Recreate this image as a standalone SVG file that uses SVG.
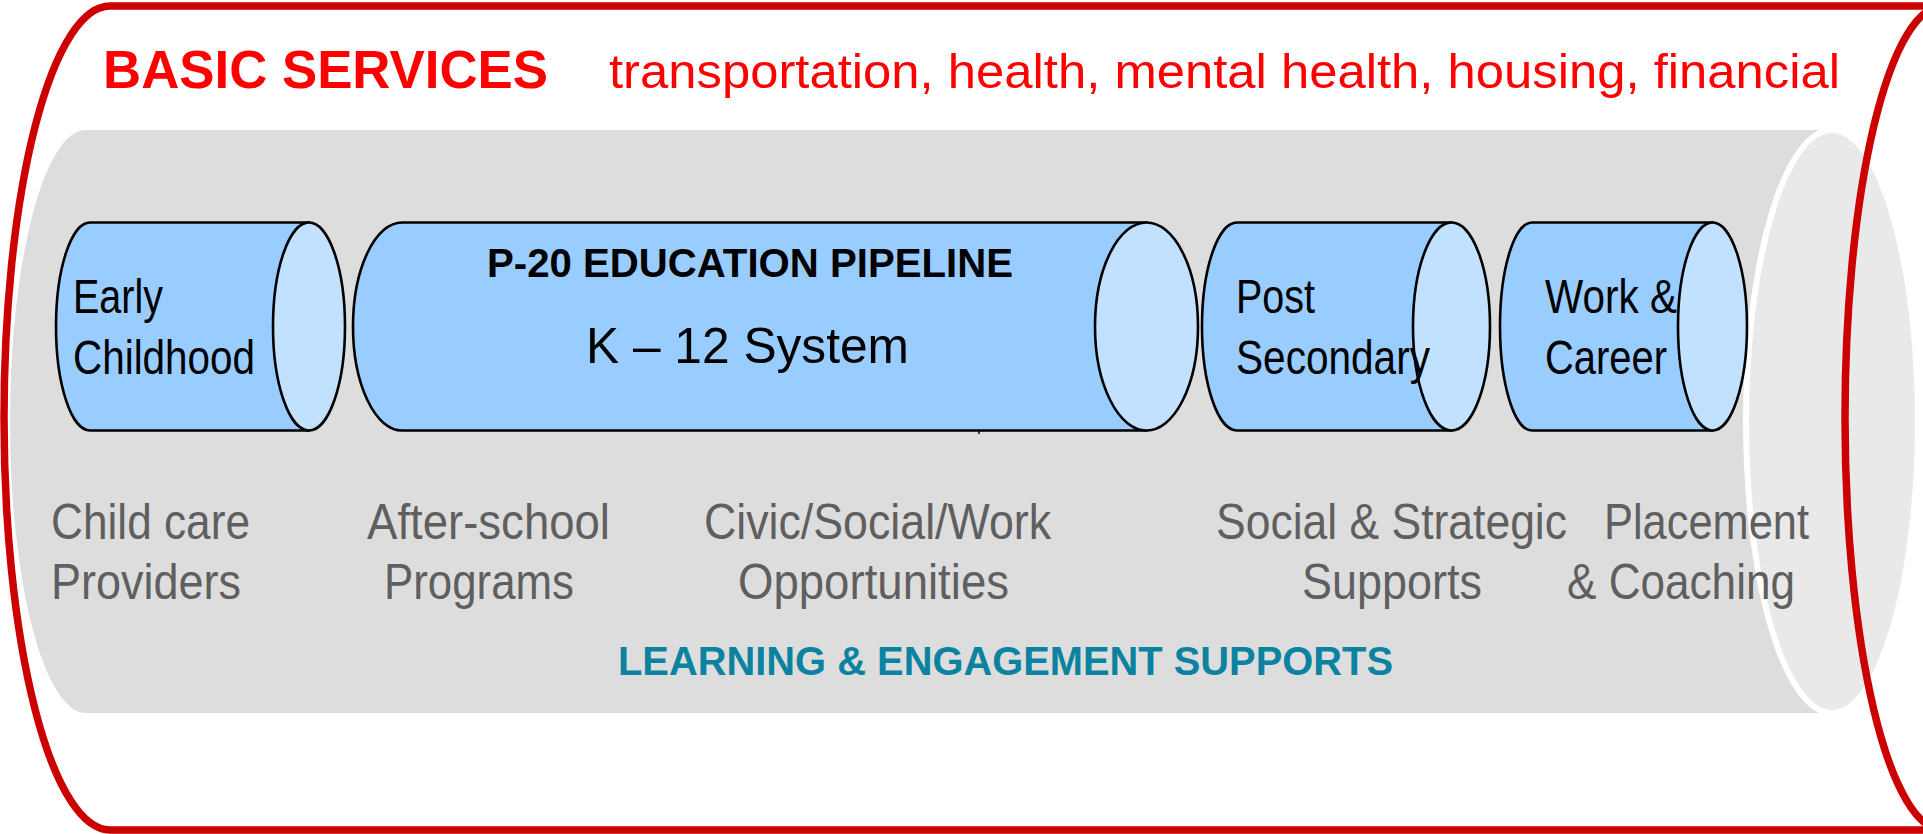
<svg xmlns="http://www.w3.org/2000/svg" width="1923" height="834" viewBox="0 0 1923 834">
<style>
.pipe{fill:#99CCFF;stroke:#000;stroke-width:2.6}
.cap{fill:#C2E1FF;stroke:#000;stroke-width:2.6}
.lbl{font-family:"Liberation Sans",Arial,sans-serif;font-size:49px;fill:#000}
.sup{font-family:"Liberation Sans",Arial,sans-serif;font-size:50px;fill:#5F5F5F}
.red{fill:none;stroke:#CC0000;stroke-width:7.5}
</style>
<rect width="1923" height="834" fill="#fff"/>
<g id="outer-cylinder">
<path class="red" d="M1923,6 L110,6 A106,412 0 0 0 110,830 L1923,830"/>
</g>
<g id="engagement-cylinder">
<path d="M1832,130 L86,130 A76,291.5 0 0 0 86,713 L1832,713 Z" fill="#DDDDDD"/>
<ellipse cx="1832" cy="421.5" rx="86" ry="291.5" fill="#E9E9E9" stroke="#fff" stroke-width="6"/>
</g>
<g id="outer-cylinder-end">
<ellipse class="red" cx="1943" cy="418" rx="98" ry="412"/>
</g>
<g id="basic-services">
<text x="103" y="88" font-family="'Liberation Sans',Arial,sans-serif" font-weight="bold" font-size="53" fill="#FF0000" textLength="445" lengthAdjust="spacingAndGlyphs">BASIC SERVICES</text>
<text x="609" y="88" font-family="'Liberation Sans',Arial,sans-serif" font-size="49" fill="#FF0000" textLength="1231" lengthAdjust="spacingAndGlyphs">transportation, health, mental health, housing, financial</text>
</g>
<g id="early-childhood">
<path class="pipe" d="M309,222.5 L90,222.5 A34,104 0 0 0 90,430.5 L309,430.5 Z"/>
<ellipse class="cap" cx="309" cy="326.5" rx="36" ry="104"/>
<text class="lbl" x="73" y="313" textLength="90" lengthAdjust="spacingAndGlyphs">Early</text>
<text class="lbl" x="73" y="374" textLength="182" lengthAdjust="spacingAndGlyphs">Childhood</text>
</g>
<g id="k12">
<path class="pipe" d="M1146.5,222.5 L402,222.5 A49,104 0 0 0 402,430.5 L1146.5,430.5 Z"/>
<ellipse class="cap" cx="1146.5" cy="326.5" rx="51.5" ry="104"/>
<text x="487" y="277" font-family="'Liberation Sans',Arial,sans-serif" font-weight="bold" font-size="40" fill="#000" textLength="526" lengthAdjust="spacingAndGlyphs">P-20 EDUCATION PIPELINE</text>
<text x="586" y="363" font-family="'Liberation Sans',Arial,sans-serif" font-size="50" fill="#000" textLength="323" lengthAdjust="spacingAndGlyphs">K – 12 System</text>
</g>
<g id="post-secondary">
<path class="pipe" d="M1451.5,222.5 L1237,222.5 A35,104 0 0 0 1237,430.5 L1451.5,430.5 Z"/>
<ellipse class="cap" cx="1451.5" cy="326.5" rx="38.5" ry="104"/>
<text class="lbl" x="1236" y="313" textLength="79" lengthAdjust="spacingAndGlyphs">Post</text>
<text class="lbl" x="1236" y="374" textLength="194" lengthAdjust="spacingAndGlyphs">Secondary</text>
</g>
<g id="work-career">
<path class="pipe" d="M1712.5,222.5 L1532,222.5 A32,104 0 0 0 1532,430.5 L1712.5,430.5 Z"/>
<ellipse class="cap" cx="1712.5" cy="326.5" rx="34.5" ry="104"/>
<text class="lbl" x="1545" y="313" textLength="132" lengthAdjust="spacingAndGlyphs">Work &amp;</text>
<text class="lbl" x="1545" y="374" textLength="122" lengthAdjust="spacingAndGlyphs">Career</text>
</g>
<g id="connectors">
<path d="M979,431 L979,434" stroke="#000" stroke-width="1.5"/>
</g>
<g id="supports">
<text class="sup" x="51" y="539" textLength="199" lengthAdjust="spacingAndGlyphs">Child care</text>
<text class="sup" x="51" y="599" textLength="190" lengthAdjust="spacingAndGlyphs">Providers</text>
<text class="sup" x="367" y="539" textLength="243" lengthAdjust="spacingAndGlyphs">After-school</text>
<text class="sup" x="384" y="599" textLength="190" lengthAdjust="spacingAndGlyphs">Programs</text>
<text class="sup" x="704" y="539" textLength="347" lengthAdjust="spacingAndGlyphs">Civic/Social/Work</text>
<text class="sup" x="738" y="599" textLength="271" lengthAdjust="spacingAndGlyphs">Opportunities</text>
<text class="sup" x="1216" y="539" textLength="351" lengthAdjust="spacingAndGlyphs">Social &amp; Strategic</text>
<text class="sup" x="1302" y="599" textLength="180" lengthAdjust="spacingAndGlyphs">Supports</text>
<text class="sup" x="1604" y="539" textLength="205" lengthAdjust="spacingAndGlyphs">Placement</text>
<text class="sup" x="1567" y="599" textLength="228" lengthAdjust="spacingAndGlyphs">&amp; Coaching</text>
<text x="618" y="675" font-family="'Liberation Sans',Arial,sans-serif" font-weight="bold" font-size="40" fill="#0B83A0" textLength="775" lengthAdjust="spacingAndGlyphs">LEARNING &amp; ENGAGEMENT SUPPORTS</text>
</g>
</svg>
